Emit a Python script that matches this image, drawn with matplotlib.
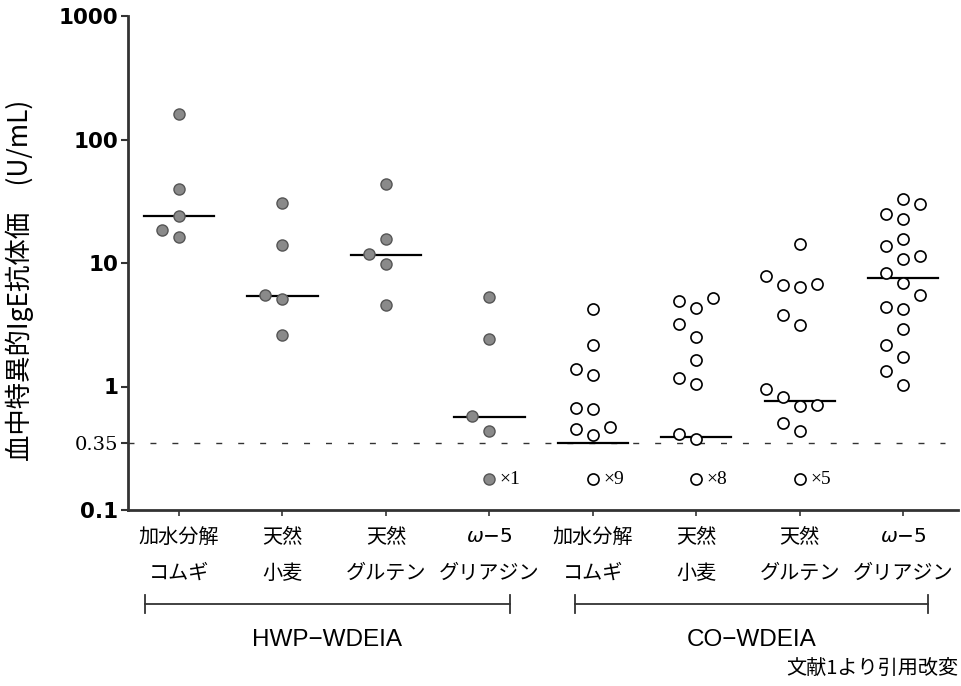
import numpy as np
import matplotlib
matplotlib.use('Agg')
import matplotlib.pyplot as plt
from matplotlib.transforms import blended_transform_factory

# カテゴリ
cat_line1 = ['加水分解', '天然', '天然', r'$\omega$−5']
cat_line2 = ['コムギ', '小麦', 'グルテン', 'グリアジン']
groups = ['HWP−WDEIA', 'CO−WDEIA']

# HWP-WDEIA (filled) values, U/mL
hwp_values = [
    [160, 40, 24, 18.4, 16.1],
    [30.7, 14.1, 5.47, 5.08, 2.6],
    [44, 15.5, 11.8, 9.9, 4.54],
    [5.34, 2.44, 0.58, 0.435],
]
hwp_below = [0, 0, 0, 1]
hwp_median = [24, 5.4, 11.7, 0.57]

# CO-WDEIA (open) values
co_values = [
    [4.22, 2.17, 1.38, 1.23, 0.652, 0.664, 0.457, 0.466, 0.404],
    [4.89, 4.33, 5.17, 3.23, 2.52, 1.64, 1.18, 1.05, 0.414, 0.375],
    [14.3, 7.85, 6.64, 6.4, 6.71, 3.77, 3.13, 0.95, 0.82, 0.698, 0.711, 0.509, 0.438],
    [33.1, 30.3, 24.9, 22.9, 15.5, 13.7, 11.3, 10.8, 8.35, 6.93, 5.47, 4.38, 4.25,
     2.91, 2.15, 1.74, 1.33, 1.02],
]
co_below = [9, 8, 5, 0]
co_median = [0.35, 0.39, 0.76, 7.6]

cutoff = 0.35
yticks = [0.1, 0.35, 1, 10, 100, 1000]
ytick_labels = ['0.1', '0.35', '1', '10', '100', '1000']


def swarm(vals, thr=0.15):
    # 簡単なビースウォーム配置 (列番号を返す)
    placed = []
    res = np.zeros(len(vals))
    for i in np.argsort(vals):
        lv = np.log10(vals[i])
        for c in [0, -1, 1, -2, 2]:
            if all(abs(lv - p) >= thr for cc, p in placed if cc == c):
                break
        placed.append((c, lv))
        res[i] = c
    return res


W, H = 962, 686
fig = plt.figure(figsize=(W / 100, H / 100), dpi=100)
ax = fig.add_axes([128 / W, 176 / H, 830 / W, 494 / H])
ax.set_yscale('log')
ax.set_ylim(0.1, 1000)
ax.set_xlim(-0.493, 7.53)

step = 0.165
half = 0.34
jp = ['Noto Sans CJK JP', 'DejaVu Sans']

all_sets = [(hwp_values, hwp_below, hwp_median, True),
            (co_values, co_below, co_median, False)]
for g, (vals_list, below, med, filled) in enumerate(all_sets):
    for k, vals in enumerate(vals_list):
        x0 = g * 4 + k
        cols = swarm(vals)
        if filled:
            kw = dict(marker='o', ms=8, mfc='#8a8a8a', mec='#555555', mew=1.0, ls='none')
        else:
            kw = dict(marker='o', ms=8, mfc='white', mec='black', mew=1.2, ls='none')
        ax.plot(x0 + cols * step, vals, zorder=4, **kw)
        ax.plot([x0 - half, x0 + half], [med[k], med[k]], color='black', lw=1.6, zorder=3)
        if below[k] > 0:
            ax.plot([x0], [0.178], zorder=4, **kw)
            ax.text(x0 + 0.1, 0.178, '×%d' % below[k], fontsize=14,
                    family='Liberation Serif', ha='left', va='center')

ax.axhline(cutoff, xmin=0, xmax=0.984, color='#333333', lw=1.0,
           dashes=(4.3, 11.5), zorder=2)

# 軸
for s in ['top', 'right']:
    ax.spines[s].set_visible(False)
ax.spines['left'].set_linewidth(2)
ax.spines['bottom'].set_linewidth(2)
ax.spines['left'].set_color('#333333')
ax.spines['bottom'].set_color('#333333')
ax.set_yticks(yticks)
ax.set_yticklabels(ytick_labels)
ax.yaxis.set_minor_locator(matplotlib.ticker.NullLocator())
ax.tick_params(axis='y', length=5, width=1.5, pad=2, color='#333333')
for lab in ax.get_yticklabels():
    if lab.get_text() == '0.35':
        lab.set_family('DejaVu Serif')
        lab.set_fontsize(14)
    else:
        lab.set_family('DejaVu Sans')
        lab.set_fontweight('bold')
        lab.set_fontsize(15.5)
ax.set_xticks(range(8))
ax.set_xticklabels([])
ax.tick_params(axis='x', length=4, width=1.2, color='#333333')

# カテゴリラベル
tr = blended_transform_factory(ax.transData, fig.transFigure)
for g in range(2):
    for k in range(4):
        x0 = g * 4 + k
        if k == 3:
            ax.text(x0, 1 - 537 / H, cat_line1[k], transform=tr, ha='center', va='center',
                    fontsize=14.5, family='DejaVu Sans')
        else:
            ax.text(x0, 1 - 537 / H, cat_line1[k], transform=tr, ha='center', va='center',
                    fontsize=14.5, family=jp)
        ax.text(x0, 1 - 573 / H, cat_line2[k], transform=tr, ha='center', va='center',
                fontsize=14.5, family=jp)

# グループ括弧
left_margin = [0.33, 0.17]
right_margin = [0.2, 0.24]
for g in range(2):
    a, b = g * 4 - left_margin[g], g * 4 + 3 + right_margin[g]
    yb = 1 - 604 / H
    ax.plot([a, b], [yb, yb], transform=tr, color='#333333', lw=1.3, clip_on=False)
    for xe in (a, b):
        ax.plot([xe, xe], [yb - 9 / H, yb + 9 / H], transform=tr, color='#333333',
                lw=1.3, clip_on=False)
    ax.text((a + b) / 2, 1 - 640 / H, groups[g], transform=tr, ha='center', va='center',
            fontsize=17.5, family='Liberation Sans')

fig.text(20 / W, 1 - 280 / H, '血中特異的IgE抗体価\u3000(U/mL)', rotation=90,
         ha='center', va='center', fontsize=19, family=jp)
fig.text(958 / W, 1 - 668 / H, '文献1より引用改変', ha='right', va='center',
         fontsize=14.5, family=jp)

fig.savefig('out.png', dpi=100)
